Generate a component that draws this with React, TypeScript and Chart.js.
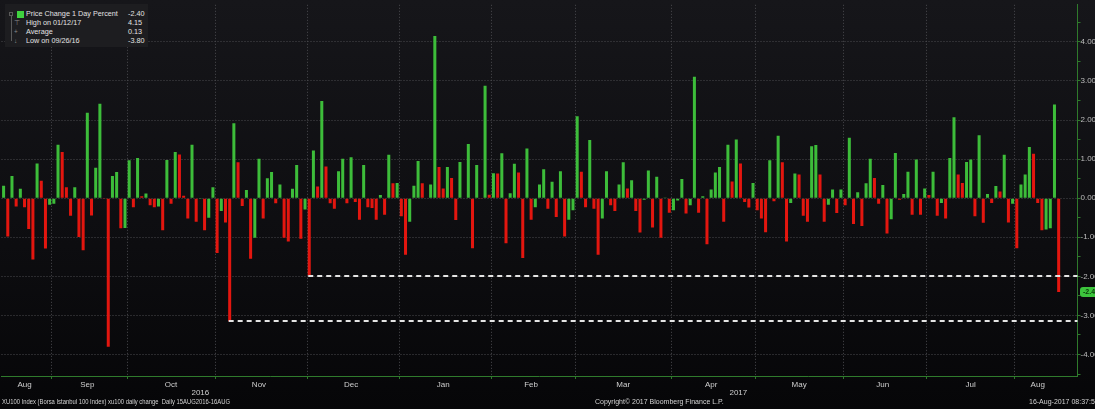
import React, { useEffect, useRef } from 'react';
import { Chart, registerables } from 'chart.js';

Chart.register(...registerables);

// ---- Data (XU100 daily % change, 15 Aug 2016 – 16 Aug 2017), one array per month ----
const aug2016 = [0.32, -0.98, 0.57, -0.21, 0.24, -0.23, -0.79, -1.57, 0.89, 0.45, -1.29, -0.17];
const sep2016 = [-0.14, 1.37, 1.18, 0.28, -0.45, 0.28, -0.99, -1.33, 2.19, -0.44, 0.78, 2.42, -0.02, -3.8, 0.57, 0.67, -0.77, -0.76];
const oct2016 = [0.97, -0.23, 1.03, 0.05, 0.12, -0.18, -0.23, -0.21, -0.82, 0.98, -0.14, 1.18, 1.12, 0.06, -0.52, 1.37, -0.6, -0.02, -0.82, -0.5, 0.28];
const nov2016 = [-1.4, -0.33, -0.62, -3.15, 1.92, 0.92, -0.2, 0.21, -1.55, -1.01, 1.01, -0.52, 0.51, 0.67, -0.13, 0.35, -1.01, -1.11, 0.24, 0.85, -1.04, -0.29];
const dec2016 = [-1.98, 1.22, 0.3, 2.49, 0.81, -0.13, -0.27, 0.69, 1.01, -0.13, 1.05, -0.1, -0.55, 0.85, -0.23, -0.25, -0.55, 0.08, -0.42, 1.11, 0.38, 0.39];
const jan2017 = [-0.46, -1.45, -0.6, 0.32, 0.95, 0.38, 0.01, 0.35, 4.15, 0.8, 0.25, 0.8, 0.52, -0.56, 0.93, 0.01, 1.39, -1.28, 0.85, -0.01, 2.88, 0.09];
const feb2017 = [0.64, 0.63, 1.15, -1.15, 0.13, 0.88, 0.66, -1.53, 1.27, -0.55, -0.23, 0.35, 0.74, -0.27, 0.42, -0.48, 0.69, -0.98, -0.55, -0.31];
const mar2017 = [2.1, 0.68, -0.23, 1.49, -0.27, -1.45, -0.52, 0.69, -0.18, -0.33, 0.35, 0.92, 0.25, 0.46, -0.33, -0.88, -0.04, 0.71, -0.75, 0.55, -1.01, 0.02, -0.37];
const apr2017 = [-0.31, -0.06, 0.49, -0.39, -0.18, 3.11, -0.37, 0.05, -1.18, 0.22, 0.66, 0.8, -0.6, 1.37, 0.43, 1.5, 0.89, -0.1, -0.24, 0.39];
const may2017 = [-0.31, -0.52, -0.87, 0.97, -0.08, 1.6, 0.92, -1.11, -0.12, 0.63, 0.61, -0.45, -0.6, 1.33, 1.36, 0.61, -0.6, -0.17, 0.22, -0.38, 0.22];
const jun2017 = [-0.18, 1.55, -0.66, 0.15, -0.71, 0.38, 1.01, 0.52, -0.14, 0.34, -0.9, -0.54, 1.16, -0.04, 0.11, 0.68, -0.42, 0.99, -0.42, 0.25];
const jul2017 = [0.08, 0.68, -0.45, -0.12, -0.52, 1.03, 2.07, 0.61, 0.39, 0.93, 0.99, -0.46, 1.61, -0.63, 0.11, -0.12, 0.31, 0.17, 1.11, -0.62, -0.14];
const aug2017 = [-1.28, 0.35, 0.61, 1.31, 1.14, -0.12, -0.82, -0.8, -0.77, 2.4, -2.4];

const monthlyChanges = [aug2016, sep2016, oct2016, nov2016, dec2016, jan2017, feb2017, mar2017, apr2017, may2017, jun2017, jul2017, aug2017];
const monthNames = ['Aug', 'Sep', 'Oct', 'Nov', 'Dec', 'Jan', 'Feb', 'Mar', 'Apr', 'May', 'Jun', 'Jul', 'Aug'];
const yearNames = ['2016', '2017'];
const monthsPerYear = [5, 8];

const yMajorTicks = [-4, -3, -2, -1, 0, 1, 2, 3, 4];
const yMinorTicks = [-4.5, -3.5, -2.5, -1.5, -0.5, 0.5, 1.5, 2.5, 3.5, 4.5];

// bars from which a dashed level line is drawn to the right edge
const dashedLevelBars = [54, 73];

const legendRows = [
  { icon: 'box', label: 'Price Change 1 Day Percent', value: '-2.40' },
  { icon: '\u22A4', label: 'High on 01/12/17', value: '4.15' },
  { icon: '+', label: 'Average', value: '0.13' },
  { icon: '\u2193', label: 'Low on 09/26/16', value: '-3.80' },
];

const footerLeft = 'XU100 Index (Borsa Istanbul 100 Index) xu100 daily change  Daily 15AUG2016-16AUG';
const footerCenter = 'Copyright\u00A9 2017 Bloomberg Finance L.P.';
const footerRight = '16-Aug-2017 08:37:57';
const lastValueTag = '-2.40';

const EMPTY_SLOTS = 4;
const GREEN = '#3dbd3a';
const RED = '#e3160f';
const AXIS_GREEN = '#2f7a2c';
const GRID = '#4a4a4e';
const FONT = '"Liberation Sans", Arial, sans-serif';

export default function App() {
  const canvasRef = useRef<HTMLCanvasElement | null>(null);

  useEffect(() => {
    const canvas = canvasRef.current;
    if (!canvas) return;

    const values: number[] = monthlyChanges.flat();
    const n = values.length;
    const monthStarts: number[] = [];
    let acc = 0;
    for (const m of monthlyChanges) {
      monthStarts.push(acc);
      acc += m.length;
    }
    const startSet = new Set(monthStarts.slice(1));
    const labelAt = new Map<number, string>();
    monthlyChanges.forEach((m, i) => labelAt.set(monthStarts[i] + Math.floor((m.length - 1) / 2), monthNames[i]));

    const labels = Array.from({ length: n + EMPTY_SLOTS }, (_, i) => String(i));
    const data: (number | null)[] = [...values, ...Array(EMPTY_SLOTS).fill(null)];
    const colors = values.map((v, i) => (i === 0 || v >= values[i - 1] ? GREEN : RED));

    // year spans (index ranges)
    const yearSpans: { name: string; from: number; to: number }[] = [];
    let mIdx = 0;
    monthsPerYear.forEach((cnt, yi) => {
      const from = monthStarts[mIdx];
      const lastMonth = mIdx + cnt - 1;
      const to = yi === monthsPerYear.length - 1 ? n + EMPTY_SLOTS - 1 : monthStarts[lastMonth] + monthlyChanges[lastMonth].length - 1;
      yearSpans.push({ name: yearNames[yi], from, to });
      mIdx += cnt;
    });

    const fitText = (ctx: CanvasRenderingContext2D, text: string, x: number, y: number, maxW: number) => {
      const w = ctx.measureText(text).width;
      if (w > maxW) {
        ctx.save();
        ctx.translate(x, y);
        ctx.scale(maxW / w, 1);
        ctx.fillText(text, 0, 0);
        ctx.restore();
      } else {
        ctx.fillText(text, x, y);
      }
    };

    const overlay = {
      id: 'overlay',
      afterDatasetsDraw(chart: any) {
        const { ctx, chartArea, scales } = chart;
        const x = scales.x;
        const y = scales.y;
        ctx.save();
        ctx.strokeStyle = '#e4e4e4';
        ctx.lineWidth = 2;
        ctx.setLineDash([5, 4]);
        for (const i of dashedLevelBars) {
          const py = Math.round(y.getPixelForValue(values[i]));
          ctx.beginPath();
          ctx.moveTo(x.getPixelForValue(i) - 1, py);
          ctx.lineTo(chartArea.right, py);
          ctx.stroke();
        }
        ctx.restore();
      },
      afterDraw(chart: any) {
        const { ctx, scales } = chart;
        const x = scales.x;
        const y = scales.y;
        ctx.save();
        // year labels
        ctx.fillStyle = '#cfcfcf';
        ctx.font = `8px ${FONT}`;
        ctx.textAlign = 'center';
        ctx.textBaseline = 'middle';
        for (const s of yearSpans) {
          const cx = (x.getPixelForValue(s.from) + x.getPixelForValue(s.to)) / 2;
          ctx.fillText(s.name, cx, 393);
        }
        // footer
        ctx.font = `7px ${FONT}`;
        ctx.textAlign = 'left';
        ctx.fillStyle = '#d2d2d2';
        fitText(ctx, footerLeft, 2, 402.5, 228);
        fitText(ctx, footerCenter, 595, 402.5, 138);
        ctx.fillText(footerRight, 1029, 402.5);
        // last value tag
        const ty = y.getPixelForValue(values[n - 1]);
        ctx.fillStyle = '#3cc43c';
        ctx.beginPath();
        (ctx as any).roundRect(1080, ty - 5, 24, 10, 3);
        ctx.fill();
        ctx.fillStyle = '#0b3d0b';
        ctx.font = `bold 7px ${FONT}`;
        ctx.fillText(lastValueTag, 1083, ty + 0.5);
        ctx.restore();
      },
    };

    const chart = new Chart(canvas, {
      type: 'bar',
      data: {
        labels,
        datasets: [
          {
            data,
            backgroundColor: colors,
            borderWidth: 0,
            barPercentage: 0.72,
            categoryPercentage: 1,
          },
        ],
      },
      options: {
        responsive: false,
        maintainAspectRatio: false,
        animation: false,
        events: [],
        layout: { padding: { left: 1.5, top: 0, right: 0, bottom: 0 } },
        plugins: { legend: { display: false }, tooltip: { enabled: false } },
        scales: {
          x: {
            type: 'category',
            offset: true,
            grid: {
              offset: true,
              lineWidth: 1,
              color: (c: any) => (startSet.has(c.index) ? GRID : 'rgba(0,0,0,0)'),
              tickColor: (c: any) => (startSet.has(c.index) ? AXIS_GREEN : 'rgba(0,0,0,0)'),
              tickLength: 3,
              drawTicks: true,
            },
            border: { display: true, color: AXIS_GREEN, width: 1, dash: [1, 2] },
            ticks: {
              autoSkip: false,
              maxRotation: 0,
              minRotation: 0,
              padding: 1,
              color: '#cfcfcf',
              font: { family: FONT, size: 8 },
              callback: (_v: any, index: number) => labelAt.get(index) ?? '',
            },
            afterFit: (s: any) => {
              s.height = 33;
            },
          },
          y: {
            position: 'right',
            min: -4.55,
            max: 4.95,
            afterBuildTicks: (s: any) => {
              s.ticks = [...yMinorTicks, ...yMajorTicks].sort((a, b) => a - b).map((v) => ({ value: v }));
            },
            grid: {
              lineWidth: 1,
              color: (c: any) => (c.tick && Number.isInteger(c.tick.value) ? GRID : 'rgba(0,0,0,0)'),
              tickColor: AXIS_GREEN,
              tickLength: 3,
            },
            border: { display: true, color: AXIS_GREEN, width: 1, dash: [1, 2] },
            ticks: {
              padding: 0,
              color: '#bdbdbd',
              font: { family: FONT, size: 8 },
              callback: (v: any) => (Number.isInteger(Number(v)) ? Number(v).toFixed(2) : ''),
            },
            afterFit: (s: any) => {
              s.width = 17.5;
            },
          },
        },
      },
      plugins: [overlay],
    } as any);

    return () => chart.destroy();
  }, []);

  return (
    <div
      style={{
        position: 'absolute',
        left: 0,
        top: 0,
        width: 1095,
        height: 409,
        overflow: 'hidden',
        background: 'linear-gradient(#16161a 0%, #0d0d10 60%, #060608 100%)',
        fontFamily: FONT,
      }}
    >
      <canvas ref={canvasRef} width={1095} height={409} style={{ position: 'absolute', left: 0, top: 0, width: 1095, height: 409 }} />
      <div
        style={{
          position: 'absolute',
          left: 5,
          top: 4,
          width: 143,
          height: 43,
          background: '#1d1d20',
          color: '#e2e2e2',
          fontSize: 7.25,
          lineHeight: '9px',
        }}
      >
        <div style={{ position: 'absolute', left: 6, top: 11, width: 1, height: 26, background: '#5a5a5a' }} />
        {legendRows.map((r, i) => (
          <div key={i} style={{ position: 'absolute', left: 0, top: 5 + i * 9, width: 143, height: 9, whiteSpace: 'nowrap' }}>
            {r.icon === 'box' ? (
              <>
                <span style={{ position: 'absolute', left: 4, top: 2.5, width: 4, height: 4, border: '1px solid #5a5a5a', boxSizing: 'border-box' }} />
                <span style={{ position: 'absolute', left: 12, top: 1.5, width: 7, height: 7, background: '#3fd13f' }} />
              </>
            ) : (
              <span style={{ position: 'absolute', left: 9, top: 0, color: '#8a8a8a', fontSize: 6.5 }}>{r.icon}</span>
            )}
            <span style={{ position: 'absolute', left: 21, top: 0 }}>{r.label}</span>
            <span style={{ position: 'absolute', left: 123, top: 0 }}>{r.value}</span>
          </div>
        ))}
      </div>
    </div>
  );
}
